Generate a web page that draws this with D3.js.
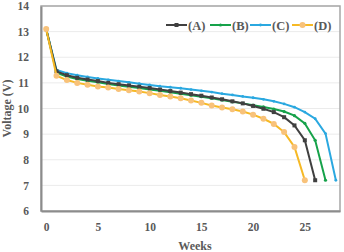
<!DOCTYPE html>
<html>
<head>
<meta charset="utf-8">
<script src="https://cdn.jsdelivr.net/npm/d3@7"></script>
<style>
  body { margin: 0; background: #fff; }
  text { font-family: "Liberation Serif", "Times New Roman", serif; font-weight: bold; }
</style>
</head>
<body>
<div id="chart"></div>
<script>
// 周数 / 电压数据
var seriesNames = ["(A)", "(B)", "(C)", "(D)"];
var voltA = [13.1, 11.45, 11.3, 11.2, 11.13, 11.07, 11.0, 10.95, 10.9, 10.85, 10.8, 10.74, 10.68, 10.62, 10.56, 10.5, 10.43, 10.36, 10.28, 10.2, 10.1, 9.99, 9.86, 9.66, 9.34, 8.76, 7.2];
var voltB = [13.1, 11.4, 11.25, 11.15, 11.08, 11.02, 10.96, 10.9, 10.85, 10.8, 10.74, 10.69, 10.63, 10.58, 10.52, 10.46, 10.4, 10.33, 10.26, 10.2, 10.13, 10.06, 9.98, 9.88, 9.72, 9.42, 8.76, 7.2];
var voltC = [13.1, 11.5, 11.38, 11.3, 11.23, 11.17, 11.12, 11.07, 11.02, 10.97, 10.92, 10.87, 10.83, 10.79, 10.74, 10.69, 10.64, 10.58, 10.53, 10.47, 10.42, 10.36, 10.28, 10.18, 10.05, 9.86, 9.6, 9.02, 7.2];
var voltD = [13.1, 11.28, 11.11, 11.0, 10.93, 10.86, 10.82, 10.76, 10.71, 10.66, 10.6, 10.53, 10.47, 10.4, 10.31, 10.22, 10.12, 10.04, 9.97, 9.88, 9.76, 9.6, 9.4, 9.08, 8.5, 7.2];
var xTicks = [0, 5, 10, 15, 20, 25];
var yTicks = [6, 7, 8, 9, 10, 11, 12, 13, 14];

var width = 344, height = 252;
var margin = {left: 41, right: 4, top: 6, bottom: 41};

var svg = d3.select("#chart").append("svg")
	.attr("width", width).attr("height", height);

var x = d3.scaleLinear().domain([-0.5, 28.4]).range([margin.left, width - margin.right]);
var y = d3.scaleLinear().domain([6, 14]).range([height - margin.bottom, margin.top]);

// 网格线
svg.append("g").selectAll("line")
	.data(yTicks.slice(1))
	.enter().append("line")
	.attr("x1", margin.left).attr("x2", width - margin.right)
	.attr("y1", function(d) { return y(d); }).attr("y2", function(d) { return y(d); })
	.attr("stroke", "#ebebeb").attr("stroke-width", 1);

// 边框
svg.append("rect")
	.attr("x", margin.left).attr("y", margin.top)
	.attr("width", width - margin.right - margin.left)
	.attr("height", height - margin.bottom - margin.top)
	.attr("fill", "none").attr("stroke", "#a6a6a6").attr("stroke-width", 1.5);

// 坐标轴
var xAxis = svg.append("g")
	.attr("transform", "translate(0," + (height - margin.bottom) + ")")
	.call(d3.axisBottom(x).tickValues(xTicks).tickSize(0).tickPadding(12));
var yAxis = svg.append("g")
	.attr("transform", "translate(" + margin.left + ",0)")
	.call(d3.axisLeft(y).tickValues(yTicks).tickSize(0).tickPadding(12));
[xAxis, yAxis].forEach(function(a) {
	a.select(".domain").attr("stroke", "#8c8c8c").attr("stroke-width", 2);
	a.selectAll("text").attr("fill", "#595959").attr("font-size", 11.5)
		.attr("font-family", "Liberation Serif").attr("font-weight", "bold");
});

svg.append("text")
	.attr("x", 195).attr("y", 250)
	.attr("text-anchor", "middle").attr("fill", "#595959").attr("font-size", 12)
	.text("Weeks");
svg.append("text")
	.attr("transform", "translate(11," + ((margin.top + height - margin.bottom) / 2) + ") rotate(-90)")
	.attr("text-anchor", "middle").attr("fill", "#595959").attr("font-size", 12)
	.text("Voltage (V)");

// 曲线
var series = [
	{name: seriesNames[0], values: voltA, color: "#404040", marker: "square", size: 4},
	{name: seriesNames[1], values: voltB, color: "#16a24a", marker: "circle", size: 1.6},
	{name: seriesNames[2], values: voltC, color: "#2aa8e0", marker: "circle", size: 1.4},
	{name: seriesNames[3], values: voltD, color: "#f6b925", marker: "circle", size: 3}
];
var line = d3.line()
	.x(function(d, i) { return x(i); })
	.y(function(d) { return y(d); });

// 绘制顺序：D 在最上层
[2, 1, 0, 3].forEach(function(k) {
	var s = series[k];
	var g = svg.append("g");
	g.append("path")
		.datum(s.values)
		.attr("fill", "none").attr("stroke", s.color).attr("stroke-width", 2)
		.attr("d", line);
	drawMarkers(g, s, s.values.map(function(d, i) { return [x(i), y(d)]; }));
});

function drawMarkers(g, s, pts) {
	if (s.marker === "square") {
		g.selectAll("rect").data(pts).enter().append("rect")
			.attr("x", function(p) { return p[0] - s.size / 2; })
			.attr("y", function(p) { return p[1] - s.size / 2; })
			.attr("width", s.size).attr("height", s.size)
			.attr("fill", s.color);
	} else {
		g.selectAll("circle").data(pts).enter().append("circle")
			.attr("cx", function(p) { return p[0]; })
			.attr("cy", function(p) { return p[1]; })
			.attr("r", s.size)
			.attr("fill", s.name === "(D)" ? "#f8c27a" : s.color);
	}
}

// 图例
var legendX = [166, 210, 250, 292];
series.forEach(function(s, i) {
	var g = svg.append("g").attr("transform", "translate(" + legendX[i] + ",25)");
	g.append("line").attr("x1", 0).attr("x2", 21).attr("y1", 0).attr("y2", 0)
		.attr("stroke", s.color).attr("stroke-width", 2);
	drawMarkers(g, s, [[10.5, 0]]);
	g.append("text").attr("x", 22).attr("y", 4.5)
		.attr("fill", "#595959").attr("font-size", 12.5)
		.text(s.name);
});
</script>
</body>
</html>
